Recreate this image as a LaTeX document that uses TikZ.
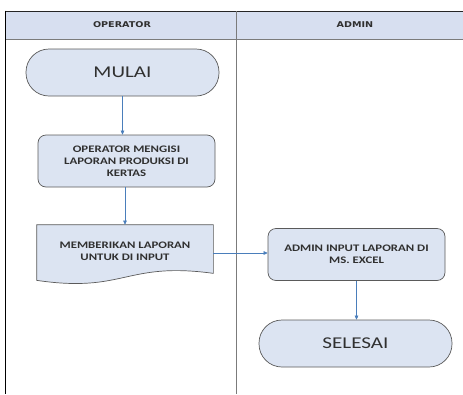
\documentclass[tikz,border=0pt]{standalone}
\usepackage{fontspec}
\setsansfont[FakeStretch=1.28]{Carlito}
\newfontfamily\headfont[FakeStretch=1.2]{DejaVu Sans}
\usepackage{xcolor}
\usetikzlibrary{arrows.meta,positioning,calc}

\definecolor{boxfill}{HTML}{DCE4F2}
\definecolor{headfill}{HTML}{D7DFF0}
\definecolor{boxline}{HTML}{5A5A5A}
\definecolor{flowblue}{HTML}{4A7EBB}
\definecolor{txt}{HTML}{303030}

\begin{document}
\begin{tikzpicture}[
  x=1pt, y=-1pt,
  >={Triangle[length=4pt, width=3.6pt]},
  font=\sffamily,
  box/.style={draw=boxline, line width=0.7pt, rounded corners=8pt,
              fill=boxfill, minimum width=177pt, minimum height=52pt,
              align=center, text=txt, font=\sffamily\bfseries\fontsize{10}{12.2}\selectfont},
  term/.style={box, rounded corners=23pt, minimum width=193pt,
               minimum height=47pt, font=\sffamily\fontsize{16.5}{20}\selectfont},
  docbox/.style={box, draw=none, fill=none, minimum width=176pt, minimum height=50pt},
  head/.style={font=\headfont\bfseries\fontsize{8}{10}\selectfont, text=txt},
  msg/.style={->, line width=0.6pt, draw=flowblue},
  lane/.style={draw=boxline!80, line width=0.8pt}
]
\useasboundingbox (0,0) rectangle (463,394);

% ==================== Swimlane header =======================
\fill[headfill] (5,11) rectangle (463,39);
\draw[line width=1pt, black!85] (5,11) -- (463,11);
\draw[lane] (5,39) -- (463,39);
\draw[lane] (236,11) -- (236,394);
\draw[line width=1.4pt, black] (5.5,10.5) -- (5.5,394);
\node[head] (operator) at (122,25) {OPERATOR};
\node[head] (admin)    at (355,25) {ADMIN};

% ==================== Nodes =================================
\node[term] (mulai) at (122.5,72.5) {MULAI};
\node[box]  (isi)   at (126.5,161)
  {OPERATOR MENGISI\\ LAPORAN PRODUKSI DI\\ KERTAS};
\node[docbox] (beri) at (125,250) {};
\node[box]  (input) at (356.5,254.5) {ADMIN INPUT LAPORAN DI\\ MS. EXCEL};
\node[term] (selesai) at (355.5,343.5) {SELESAI};
\coordinate (isiout) at ($(isi.south)+(-1.5,0)$);

% document outline with wavy bottom
\draw[draw=boxline, line width=0.7pt, fill=boxfill]
  (beri.north west) -- (beri.north east) -- ($(beri.south east)+(0,-2)$)
  .. controls ($(beri.south east)!0.5!(beri.south west)+(0,-14)$)
  and ($(beri.south east)!0.5!(beri.south west)+(0,18)$) ..
  ($(beri.south west)+(0,5)$) -- cycle;
\node[docbox] at ($(beri)+(0,1)$) {MEMBERIKAN LAPORAN\\ UNTUK DI INPUT};

% ==================== Flow ==================================
\draw[msg] (mulai.south) -- (mulai.south |- isi.north);
\draw[msg] (isiout) -- (isiout |- beri.north);
\draw[msg] (beri.east |- 0,253) -- (input.west |- 0,253);
\draw[msg] (input.south) -- (input.south |- selesai.north);

\end{tikzpicture}
\end{document}
